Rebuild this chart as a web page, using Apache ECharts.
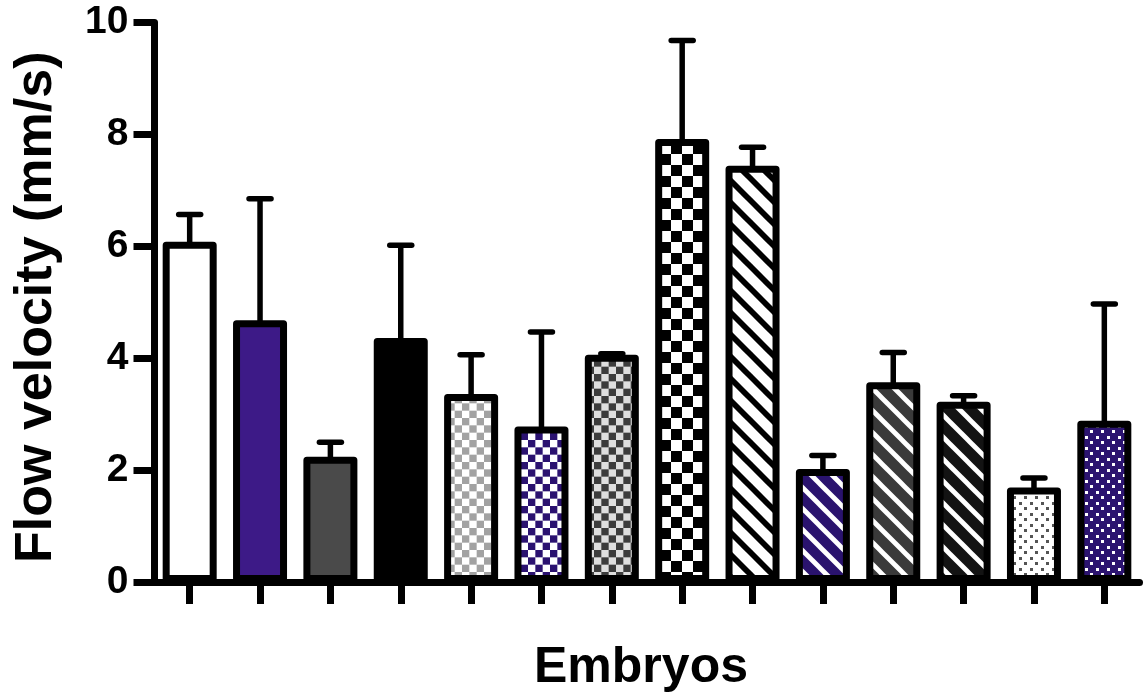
<!DOCTYPE html>
<html>
<head>
<meta charset="utf-8">
<title>Flow velocity per embryo</title>
<script src="https://cdn.jsdelivr.net/npm/echarts@6/dist/echarts.min.js"></script>
<style>
  html, body { margin: 0; padding: 0; background: #fff; }
  #chart { width: 1144px; height: 698px; }
</style>
</head>
<body>
<div id="chart"></div>
<script>
// Embryo categories (not labelled on the axis)
const categories = ['E1','E2','E3','E4','E5','E6','E7','E8','E9','E10','E11','E12','E13','E14'];
// Mean flow velocity (mm/s) for each embryo
const meanValues = [6.08, 4.68, 2.24, 4.36, 3.36, 2.78, 4.06, 7.92, 7.44, 2.02, 3.57, 3.22, 1.69, 2.88];
// Upper end of each error bar (mean + SD), mm/s
const upperValues = [6.57, 6.85, 2.50, 6.02, 4.06, 4.47, 4.08, 9.68, 7.77, 2.26, 4.10, 3.33, 1.86, 4.97];
// Y axis tick values
const yTicks = [0, 2, 4, 6, 8, 10];

const FONT = '"Liberation Sans", Arial, Helvetica, sans-serif';

// ---- fill patterns drawn on small canvases ----
function tile(w, h, draw) {
  const c = document.createElement('canvas');
  c.width = w; c.height = h;
  const ctx = c.getContext('2d');
  draw(ctx, w, h);
  return { image: c, repeat: 'repeat' };
}
function checker(c1, c2, n, size) {
  return tile(size, size, (ctx, w) => {
    const s = w / n;
    ctx.fillStyle = c2; ctx.fillRect(0, 0, w, w);
    ctx.fillStyle = c1;
    for (let i = 0; i < n; i++) for (let j = 0; j < n; j++) {
      if ((i + j) % 2 === 0) ctx.fillRect(i * s, j * s, s, s);
    }
  });
}
function stripes(bg, fg, period, width) {
  return tile(period, period, (ctx, p) => {
    ctx.fillStyle = bg; ctx.fillRect(0, 0, p, p);
    ctx.strokeStyle = fg; ctx.lineWidth = width; ctx.lineCap = 'square';
    for (let k = -2; k <= 2; k++) {
      ctx.beginPath();
      ctx.moveTo(-p, -p + k * p);
      ctx.lineTo(2 * p, 2 * p + k * p);
      ctx.stroke();
    }
  });
}
function dots(bg, fg, step, size) {
  return tile(step, step, (ctx, s) => {
    ctx.fillStyle = bg; ctx.fillRect(0, 0, s, s);
    ctx.fillStyle = fg;
    ctx.fillRect(1, 1, size, size);
    ctx.fillRect(1 + Math.round(s / 2), 1 + Math.round(s / 2), size, size);
  });
}

const fills = [
  '#ffffff',
  '#3d1a87',
  '#4a4a4a',
  '#000000',
  checker('#a2a2a2', '#ffffff', 6, 44),
  checker('#2b1270', '#ffffff', 6, 44),
  checker('#3c3c3c', '#dedede', 6, 44),
  checker('#000000', '#ffffff', 2, 22),
  stripes('#ffffff', '#000000', 22, 5.8),
  stripes('#2a136e', '#ffffff', 21, 4.8),
  stripes('#3a3a3a', '#ffffff', 22, 4.8),
  stripes('#131313', '#ffffff', 22, 4.8),
  dots('#ffffff', '#555555', 11, 3),
  dots('#2c1470', '#ffffff', 11, 3)
];

const barData = meanValues.map((v, i) => ({ value: v, itemStyle: { color: fills[i] } }));
const errData = meanValues.map((v, i) => [i, v, upperValues[i]]);

const chart = echarts.init(document.getElementById('chart'), null, { renderer: 'canvas' });

chart.setOption({
  animation: false,
  backgroundColor: '#ffffff',
  grid: { left: 154.5, right: 4.5, top: 22.5, bottom: 116, containLabel: false },
  xAxis: {
    type: 'category',
    data: categories,
    boundaryGap: true,
    name: 'Embryos',
    nameLocation: 'middle',
    nameGap: 61,
    nameTextStyle: { fontFamily: FONT, fontWeight: 'bold', fontSize: 50, color: '#000', padding: [0, 12, 0, 0] },
    axisLine: { show: true, lineStyle: { color: '#000', width: 7 } },
    axisTick: { show: true, alignWithLabel: true, length: 22, lineStyle: { color: '#000', width: 7 } },
    axisLabel: { show: false },
    splitLine: { show: false }
  },
  yAxis: {
    type: 'value',
    min: yTicks[0],
    max: yTicks[yTicks.length - 1],
    interval: yTicks[1] - yTicks[0],
    name: 'Flow velocity (mm/s)',
    nameLocation: 'middle',
    nameRotate: 90,
    nameGap: 92,
    nameTextStyle: { fontFamily: FONT, fontWeight: 'bold', fontSize: 52, color: '#000', padding: [0, 10, 0, 0] },
    axisLine: { show: true, lineStyle: { color: '#000', width: 7 } },
    axisTick: { show: true, length: 21, lineStyle: { color: '#000', width: 7 } },
    axisLabel: { fontFamily: FONT, fontWeight: 'bold', fontSize: 39, color: '#000', margin: 26 },
    splitLine: { show: false }
  },
  series: [
    {
      // error bars, drawn beneath the bar outlines
      type: 'custom',
      z: 1,
      data: errData,
      encode: { x: 0, y: [1, 2] },
      renderItem: function (params, api) {
        const base = api.coord([api.value(0), api.value(1)]);
        const top = api.coord([api.value(0), api.value(2)]);
        return {
          type: 'group',
          children: [
            { type: 'line', shape: { x1: base[0], y1: base[1] + 6, x2: top[0], y2: top[1] },
              style: { stroke: '#000', lineWidth: 5.5 } },
            { type: 'line', shape: { x1: top[0] - 11, y1: top[1], x2: top[0] + 11, y2: top[1] },
              style: { stroke: '#000', lineWidth: 5.5, lineCap: 'round' } }
          ]
        };
      }
    },
    {
      type: 'bar',
      z: 2,
      barWidth: 54,
      data: barData,
      itemStyle: { borderColor: '#000', borderWidth: 7, borderJoin: 'round' }
    }
  ]
});
</script>
</body>
</html>
